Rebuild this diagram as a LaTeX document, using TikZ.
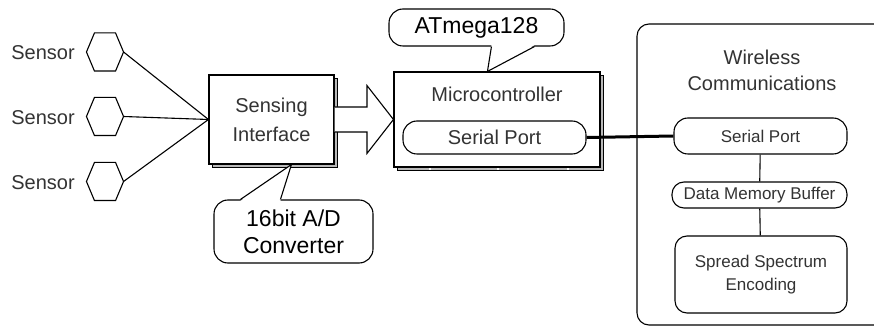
\documentclass[tikz,border=0pt]{standalone}
\usepackage{fontspec}
\setmainfont{Liberation Sans}
\usetikzlibrary{calc,shadows}
\begin{document}
\begin{tikzpicture}[x=1pt,y=-1pt,line width=1.1pt,
  hexbox/.style={minimum width=36pt,minimum height=37pt,inner sep=0pt},
  senslbl/.style={font=\fontsize{20}{24}\selectfont,text=black!80,inner sep=0pt},
  mainbox/.style={draw,fill=white,inner sep=0pt,align=center,
    font=\fontsize{20}{29}\selectfont,text=black!80,
    general shadow={draw=black,line width=0.6pt,fill=gray!55,shadow xshift=3pt,shadow yshift=-3pt}},
  portbox/.style={draw,fill=white,inner sep=0pt,rounded corners=14pt,align=center},
  callout/.style={draw,fill=white,inner sep=0pt,rounded corners=14pt,align=center,
    font=\fontsize{23}{27}\selectfont},
  innerfont/.style={font=\fontsize{17}{23}\selectfont,text=black!80},
  title/.style={inner sep=0pt,align=center,font=\fontsize{20}{26}\selectfont,text=black!80},
  link/.style={draw,line width=1.1pt},
  thick link/.style={draw,line width=3pt}
]
\useasboundingbox (0,0) rectangle (874,328);

% Sensing interface
\node[mainbox,minimum width=125pt,minimum height=89pt] (sens) at (271.5,119.5) {Sensing\\Interface};

% Sensors
\foreach \i/\y in {1/52,2/116.5,3/181.5} {
  \node[hexbox] (hex\i) at (105,\y) {};
  \draw (hex\i.west) -- ($(hex\i.north west)+(8,0)$) -- ($(hex\i.north east)+(-8,0)$)
     -- (hex\i.east) -- ($(hex\i.south east)+(-8,0)$) -- ($(hex\i.south west)+(8,0)$) -- cycle;
  \node[senslbl] (slbl\i) at (43,\y+1) {Sensor};
  \draw[link] (hex\i.east) -- (sens.west);
}

% Microcontroller
\node[mainbox,minimum width=206pt,minimum height=95pt] (micro) at (497,119.5) {};
\node[inner sep=0pt,font=\fontsize{20}{24}\selectfont,text=black!80] (mtitle) at (497,94) {Microcontroller};
\node[portbox,minimum width=183pt,minimum height=33pt,font=\fontsize{20}{24}\selectfont,text=black!80] (msp) at (494.5,137.5) {Serial Port};
\foreach \x in {430,498,568} \fill[white] (\x-1,167.8) rectangle (\x+1,170.5);

% Big arrow
\coordinate (ahead) at ($(sens.east)!0.55!(micro.west)$);
\draw[fill=white,line join=miter]
  ($(sens.east)+(0,-12.5)$) -- ($(ahead)+(0,-12.5)$) -- ($(ahead)+(0,-34)$) -- (micro.west)
  -- ($(ahead)+(0,34)$) -- ($(ahead)+(0,12.5)$) -- ($(sens.east)+(0,12.5)$);

% ATmega128 callout
\node[callout,minimum width=175pt,minimum height=37pt] (atm) at (476.5,27.5) {ATmega128};
\coordinate (atmtip) at ($(micro.north west)+(94,0)$);
\fill[white] (atmtip) -- ($(atm.south west)+(103,-1.4)$) -- ($(atm.south west)+(146,-1.4)$) -- cycle;
\draw ($(atm.south west)+(103,0)$) -- (atmtip) -- ($(atm.south west)+(146,0)$);

% 16bit A/D callout
\node[callout,minimum width=159pt,minimum height=63pt] (adc) at (293.5,231.5) {16bit A/D\\Converter};
\coordinate (adctip) at ($(sens.south west)+(83,0)$);
\fill[white] (adctip) -- ($(adc.north west)+(27,1.4)$) -- ($(adc.north west)+(67,1.4)$) -- cycle;
\draw ($(adc.north west)+(27,0)$) -- (adctip) -- ($(adc.north west)+(67,0)$);

% Wireless communications
\node[draw,rounded corners=12pt,minimum width=263pt,minimum height=301pt,inner sep=0pt] (wl) at (768.5,174.5) {};
\node[title] (wltitle) at (762,70) {Wireless\\Communications};
\node[portbox,innerfont,minimum width=173pt,minimum height=36pt] (wsp) at (760.5,136) {Serial Port};
\node[portbox,innerfont,rounded corners=12pt,minimum width=175pt,minimum height=26pt] (dmb) at (759.5,195) {Data Memory Buffer};
\node[portbox,innerfont,rounded corners=12pt,minimum width=172pt,minimum height=77pt] (sse) at (761,274.5) {Spread Spectrum\\Encoding};
\draw[link] (wsp) -- (dmb);
\draw[link] (dmb) -- (sse);

% Serial link
\draw[thick link] (msp.east) -- (wsp.west);
\end{tikzpicture}
\end{document}
